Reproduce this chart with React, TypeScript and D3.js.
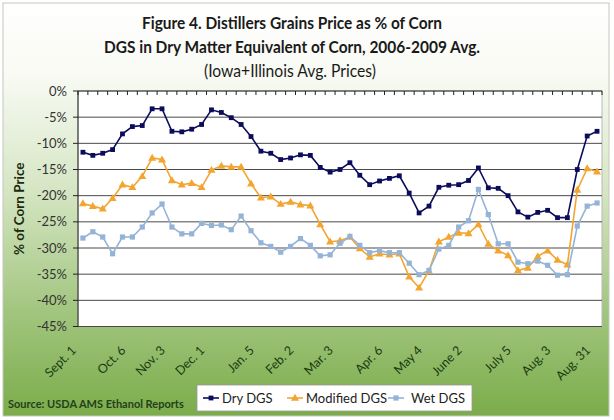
import React from "react";
import * as d3 from "d3";

const dryDGS = [-11.7,-12.3,-11.9,-11.2,-8.2,-6.8,-6.6,-3.4,-3.4,-7.7,-7.8,-7.3,-6.4,-3.6,-4.1,-5.1,-6.4,-8.7,-11.5,-11.9,-13.1,-12.8,-12.2,-12.3,-14.6,-15.5,-15.0,-13.7,-16.1,-17.9,-17.2,-16.7,-16.2,-19.5,-23.3,-22.0,-18.4,-18.0,-17.9,-17.1,-14.7,-18.5,-18.6,-20.0,-23.1,-24.1,-23.2,-22.8,-24.2,-24.2,-15.0,-8.6,-7.7];
const modifiedDGS = [-21.5,-22.0,-22.5,-20.5,-17.9,-18.4,-16.3,-12.8,-13.1,-17.1,-17.9,-17.6,-18.4,-15.1,-14.3,-14.5,-14.5,-17.7,-20.4,-20.2,-21.6,-21.2,-21.7,-21.9,-25.5,-28.8,-28.6,-27.9,-30.1,-31.7,-31.1,-31.3,-31.1,-35.5,-37.6,-34.4,-28.8,-27.9,-27.1,-27.2,-25.5,-29.2,-30.5,-31.4,-34.3,-33.8,-31.6,-30.5,-32.3,-33.2,-18.9,-14.8,-15.4];
const wetDGS = [-28.1,-26.9,-27.9,-31.1,-27.9,-27.9,-26.0,-23.3,-21.6,-26.0,-27.3,-27.3,-25.3,-25.7,-25.6,-26.5,-23.9,-26.7,-29.0,-29.7,-30.8,-29.7,-28.2,-29.5,-31.5,-31.3,-29.1,-27.8,-29.5,-30.9,-30.5,-30.9,-30.9,-32.9,-35.1,-34.3,-30.2,-29.5,-26.0,-24.8,-18.8,-23.6,-29.2,-29.2,-32.7,-33.0,-32.5,-33.3,-35.2,-35.1,-25.8,-22.0,-21.4];
const tickLabelIndex = [0, 5, 9, 13, 18, 22, 26, 31, 35, 39, 44, 48, 52];
const tickLabelText = ["Sept. 1", "Oct. 6", "Nov. 3", "Dec. 1", "Jan. 5", "Feb. 2", "Mar. 3", "Apr. 6", "May 4", "June 2", "July 5", "Aug. 3", "Aug. 31"];
const yTicks = [0, -5, -10, -15, -20, -25, -30, -35, -40, -45];
const seriesNames = ["Dry DGS", "Modified DGS", "Wet DGS"];

const W = 614, H = 420;
const PL = 78, PR = 602, PT = 91, PB = 326.5;
const FONT = "Lato, 'Open Sans', sans-serif";
const colors = ["#0c0c5c", "#f2a52f", "#95b3d7"];

export default function App() {
  const idx = d3.range(dryDGS.length);
  const x = d3.scaleBand<number>().domain(idx).range([PL, PR]).padding(0);
  const cx = (i: number) => (x(i) as number) + x.bandwidth() / 2;
  const y = d3.scaleLinear().domain([-45, 0]).range([PB, PT]);
  const line = d3.line<number>().x((_, i) => cx(i)).y((d) => y(d));
  const series = [dryDGS, modifiedDGS, wetDGS];
  const tri = d3.symbol().type(d3.symbolTriangle).size(28)() as string;

  const marker = (s: number, px: number, py: number, key: string) => {
    if (s === 1) return <path key={key} d={tri} transform={`translate(${px},${py + 0.5})`} fill={colors[1]} />;
    const sz = s === 0 ? 4.8 : 5.2;
    return <rect key={key} x={px - sz / 2} y={py - sz / 2} width={sz} height={sz} fill={colors[s]} />;
  };

  const legendItems = [
    { x: 203, tx: 222 },
    { x: 287, tx: 306 },
    { x: 388, tx: 411 },
  ];

  return (
    <svg width={W} height={H} style={{ display: "block", position: "absolute", left: 0, top: 0 }}>
      <defs>
        <linearGradient id="bg" x1="0" y1="0" x2="0" y2="1">
          <stop offset="0" stopColor="#ffffff" />
          <stop offset="0.18" stopColor="#f8faf3" />
          <stop offset="0.45" stopColor="#d6e6c4" />
          <stop offset="0.75" stopColor="#a1c57e" />
          <stop offset="1" stopColor="#7bac4a" />
        </linearGradient>
      </defs>
      <rect x={0} y={0} width={W} height={H} fill="#ffffff" />
      <rect x={3} y={3} width={606} height={413} fill="url(#bg)" stroke="#c4c8bc" strokeWidth={1} />

      <g fontFamily={FONT} textAnchor="middle" fill="#1a1a1a">
        <text x={292} y={29} fontSize={17} fontWeight="bold" textLength={300} lengthAdjust="spacingAndGlyphs">Figure 4. Distillers Grains Price as % of Corn</text>
        <text x={292} y={53} fontSize={17} fontWeight="bold" textLength={376} lengthAdjust="spacingAndGlyphs">DGS in Dry Matter Equivalent of Corn, 2006-2009 Avg.</text>
        <text x={290} y={77} fontSize={17} textLength={172} lengthAdjust="spacingAndGlyphs">(Iowa+Illinois Avg. Prices)</text>
      </g>

      <rect x={PL} y={PT} width={PR - PL} height={PB - PT} fill="#ffffff" stroke="#b8b8b8" strokeWidth={1} />
      {yTicks.filter((t) => t !== 0).map((t) => (
        <line key={t} x1={PL} x2={PR} y1={y(t)} y2={y(t)} stroke="#4a4a4a" strokeWidth={1} />
      ))}
      {yTicks.map((t) => (
        <g key={"yt" + t}>
          <line x1={PL - 5} x2={PL} y1={y(t)} y2={y(t)} stroke="#222" strokeWidth={1} />
          <text x={67} y={y(t) + 4.5} textAnchor="end" fontFamily={FONT} fontSize={13} fill="#333">{t + "%"}</text>
        </g>
      ))}
      <line x1={PL} x2={PL} y1={PT} y2={PB} stroke="#222" strokeWidth={1} />
      <line x1={PL} x2={PR} y1={PT} y2={PT} stroke="#222" strokeWidth={1} />
      {d3.range(dryDGS.length + 1).map((i) => {
        const tx = PL + i * x.bandwidth();
        return <line key={"ct" + i} x1={tx} x2={tx} y1={PT} y2={PT + 4} stroke="#222" strokeWidth={1} />;
      })}

      {series.map((s, si) => (
        <g key={"s" + si}>
          <path d={line(s) as string} fill="none" stroke={colors[si]} strokeWidth={1.6} />
          {s.map((v, i) => marker(si, cx(i), y(v), `m${si}-${i}`))}
        </g>
      ))}

      <text transform={`translate(24,${(PT + PB) / 2}) rotate(-90)`} textAnchor="middle" fontFamily={FONT} fontSize={13.5} fontWeight="bold" fill="#1a2a10">% of Corn Price</text>

      {tickLabelIndex.map((ti, k) => (
        <text key={"xl" + k} transform={`translate(${cx(ti) - 6},351) rotate(-45)`} textAnchor="end" fontFamily={FONT} fontSize={12.5} fill="#1b3b12">{tickLabelText[k]}</text>
      ))}

      <text x={8} y={408} fontFamily={FONT} fontSize={11} fontWeight="bold" fill="#24401a">Source: USDA AMS Ethanol Reports</text>

      <rect x={197} y={385} width={275} height={26} fill="#ffffff" stroke="#9a9a9a" strokeWidth={0.8} />
      {legendItems.map((it, si) => (
        <g key={"lg" + si}>
          <line x1={it.x} x2={it.x + 16} y1={398} y2={398} stroke={colors[si]} strokeWidth={1.6} />
          {marker(si, it.x + 8, 398, "lm" + si)}
          <text x={it.tx} y={403} fontFamily={FONT} fontSize={13} fill="#222">{seriesNames[si]}</text>
        </g>
      ))}
    </svg>
  );
}
